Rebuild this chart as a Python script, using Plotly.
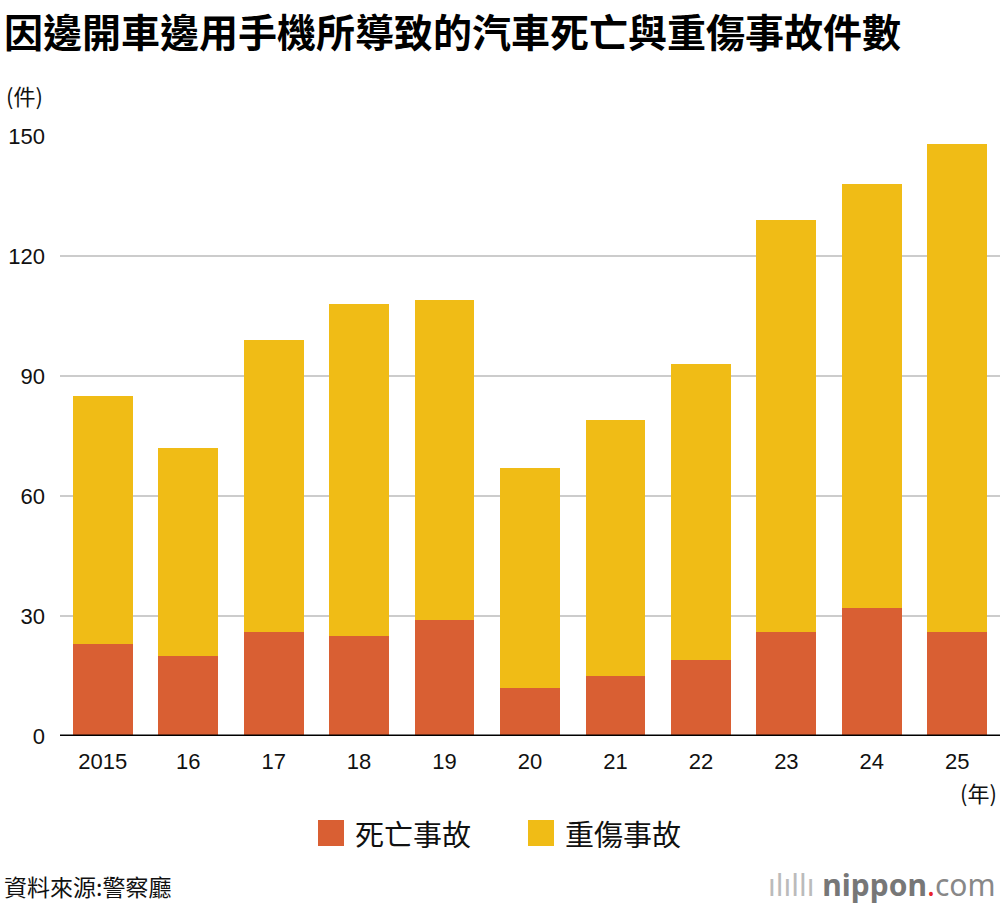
import plotly.graph_objects as go

years = ["2015", "16", "17", "18", "19", "20", "21", "22", "23", "24", "25"]
deaths = [23, 20, 26, 25, 29, 12, 15, 19, 26, 32, 26]
serious = [62, 52, 73, 83, 80, 55, 64, 74, 103, 106, 122]
series_names = ["死亡事故", "重傷事故"]
colors = ["#D95F33", "#F0BC16"]
y_ticks = [0, 30, 60, 90, 120, 150]

W, H = 1000, 906
L, R, T, B = 60, 0, 136, 170

def px(x):
    return (x - L) / (W - L - R)

def py(y):
    return (H - B - y) / (H - T - B)

FONT = "Liberation Sans, Noto Sans CJK TC, sans-serif"
CJK = "Noto Sans CJK TC, sans-serif"

fig = go.Figure()
fig.add_trace(go.Bar(x=years, y=deaths, name=series_names[0], marker_color=colors[0],
                     marker_line_width=0, showlegend=False))
fig.add_trace(go.Bar(x=years, y=serious, name=series_names[1], marker_color=colors[1],
                     marker_line_width=0, showlegend=False))

fig.update_layout(
    width=W, height=H,
    margin=dict(l=L, r=R, t=T, b=B),
    barmode="stack", bargap=0.3,
    plot_bgcolor="white", paper_bgcolor="white",
    font=dict(family=FONT, size=20, color="#111"),
    xaxis=dict(showgrid=False, ticks="", tickfont=dict(size=22, family=FONT, color="#111"),
               showline=False, zeroline=False, ticklabelstandoff=10),
    yaxis=dict(range=[0, 150], tickvals=y_ticks, showgrid=True, gridcolor="#cccccc",
               gridwidth=1.5, zeroline=False, showline=False,
               tickfont=dict(size=22, family=FONT, color="#111"), ticklabelstandoff=14),
    showlegend=False,
)

shapes = []
shapes.append(dict(type="line", xref="paper", yref="y", x0=0, x1=1, y0=0, y1=0,
                   line=dict(color="#000", width=3)))
for x0, c in [(318, colors[0]), (528, colors[1])]:
    shapes.append(dict(type="rect", xref="paper", yref="paper",
                       x0=px(x0), x1=px(x0 + 26), y0=py(820), y1=py(846),
                       fillcolor=c, line=dict(width=0)))
fig.update_layout(shapes=shapes)

ann = []
ann.append(dict(text="<b>因邊開車邊用手機所導致的汽車死亡與重傷事故件數</b>", xref="paper", yref="paper",
                x=px(2), y=py(0), xanchor="left", yanchor="top", showarrow=False,
                font=dict(family=CJK, size=39, color="#000")))
ann.append(dict(text="(件)", xref="paper", yref="paper", x=px(4), y=py(95),
                xanchor="left", yanchor="middle", showarrow=False,
                font=dict(family=CJK, size=22, color="#111")))
ann.append(dict(text="(年)", xref="paper", yref="paper", x=px(999), y=py(792),
                xanchor="right", yanchor="middle", showarrow=False,
                font=dict(family=CJK, size=22, color="#111")))
ann.append(dict(text=series_names[0], xref="paper", yref="paper", x=px(353), y=py(833),
                xanchor="left", yanchor="middle", showarrow=False,
                font=dict(family=CJK, size=29, color="#111")))
ann.append(dict(text=series_names[1], xref="paper", yref="paper", x=px(563), y=py(833),
                xanchor="left", yanchor="middle", showarrow=False,
                font=dict(family=CJK, size=29, color="#111")))
ann.append(dict(text="資料來源:警察廳", xref="paper", yref="paper", x=px(2), y=py(886),
                xanchor="left", yanchor="middle", showarrow=False,
                font=dict(family=CJK, size=23, color="#111")))
ann.append(dict(text="<span style='color:#bbb'>ılıllı </span><b>nippon</b><span style='color:#e8252b'>.</span><span style='color:#888'>com</span>",
                xref="paper", yref="paper", x=px(998), y=py(884),
                xanchor="right", yanchor="middle", showarrow=False,
                font=dict(family="Noto Sans, sans-serif", size=30, color="#777")))
fig.update_layout(annotations=ann)

fig.write_html("out.html")
